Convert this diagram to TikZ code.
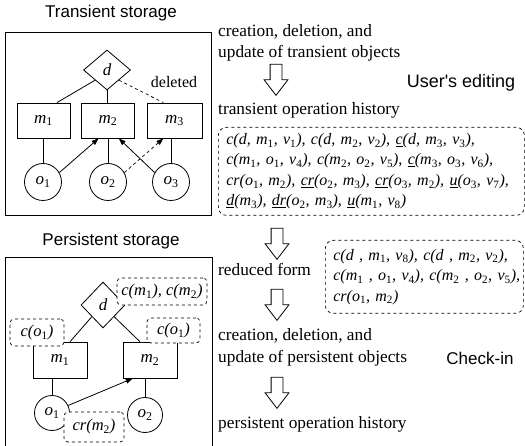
\documentclass[tikz,border=0pt]{standalone}
\usepackage{fontspec}
\setmainfont{Liberation Serif}
\newfontfamily\titlefont{Liberation Sans}
\usetikzlibrary{shapes.geometric,shapes.arrows,calc,arrows.meta}
\newcommand\ix[1]{\textsubscript{\upshape #1}}
\begin{document}
\begin{tikzpicture}[x=1pt,y=-1pt,
  every node/.style={inner sep=0pt},
  frame/.style={line width=0.9pt},
  mbox/.style={draw, line width=0.8pt, minimum width=53pt, minimum height=35pt, font=\itshape\fontsize{17}{17}\selectfont},
  obj/.style={circle, draw, line width=0.8pt, minimum size=37pt, font=\itshape\fontsize{17}{17}\selectfont},
  dia/.style={diamond, draw, line width=0.8pt, aspect=1, font=\itshape\fontsize{17}{17}\selectfont},
  note/.style={draw, dashed, line width=0.7pt, rounded corners=4pt, fill=white, font=\itshape\fontsize{16.5}{16.5}\selectfont},
  hist/.style={draw, dashed, line width=0.7pt, rounded corners=8pt, align=left, anchor=north west, inner xsep=10pt, font=\itshape\fontsize{16}{20.5}\selectfont},
  hollow/.style={single arrow, draw, line width=0.8pt, shape border rotate=270, minimum height=31pt, inner sep=5.5pt, single arrow head extend=6pt, single arrow tip angle=75},
  lbl/.style={anchor=west, font=\fontsize{17.3}{17.3}\selectfont},
  ttl/.style={font=\titlefont\fontsize{17}{17}\selectfont},
  link/.style={line width=0.8pt},
  dlink/.style={line width=0.7pt, dashed},
  arr/.style={line width=0.8pt, -{Triangle[length=7pt,width=5pt]}}
]
\useasboundingbox (0,0) rectangle (525,446);

% ---------- Transient storage ----------
\node[ttl] (t1) at (111,13) {Transient storage};
\draw[frame] (5,32) rectangle (211,215);

\node[dia, minimum width=47pt, minimum height=40pt] (d1) at (107,70) {d};
\node[mbox] (m1) at (43.5,120.5) {m\ix{1}};
\node[mbox] (m2) at (108,120.5) {m\ix{2}};
\node[mbox, minimum width=55pt] (m3) at (174.5,120.5) {m\ix{3}};
\node[obj] (o1) at (43,182) {o\ix{1}};
\node[obj] (o2) at (108,182) {o\ix{2}};
\node[obj] (o3) at (171,182) {o\ix{3}};
\node[font=\fontsize{16}{16}\selectfont] (del) at (174,82) {deleted};

\draw[link] ($(d1.south)!0.5!(d1.west)$) -- ($(m1.north)!0.5!(m1.north east)$);
\draw[link] (d1.south) -- (d1.south |- m2.north);
\draw[dlink] ($(d1.south)!0.5!(d1.east)$) -- ($(m3.north)!0.4!(m3.north west)$);
\draw[link] (o1.north) -- (o1.north |- m1.south);
\draw[link] (o2.north) -- (o2.north |- m2.south);
\draw[link] (o3.north) -- (o3.north |- m3.south);
\draw[arr] (o1.30) -- ($(m2.south)!0.35!(m2.south west)$);
\draw[arr, dashed, line width=0.7pt] (o2.30) -- ($(m3.south)!0.4!(m3.south west)$);
\draw[arr] (o3.150) -- ($(m2.south)!0.4!(m2.south east)$);

% ---------- Persistent storage ----------
\node[ttl] (t2) at (111,241) {Persistent storage};
\draw[frame] (5,447) -- (5,257) -- (212,257) -- (212,447);

\node[dia, minimum width=44pt, minimum height=46pt] (pd) at (103,305) {d};
\node[mbox, minimum width=54pt, minimum height=36pt] (pm1) at (60,360) {m\ix{1}};
\node[mbox, minimum width=54pt, minimum height=36pt] (pm2) at (150,360) {m\ix{2}};
\node[obj, minimum size=35pt] (po1) at (52,413) {o\ix{1}};
\node[obj, minimum size=35pt] (po2) at (145,415) {o\ix{2}};

\draw[link] ($(pd.south)!0.5!(pd.west)$) -- ($(pm1.north)!0.37!(pm1.north east)$);
\draw[link] ($(pd.south)!0.5!(pd.east)$) -- ($(pm2.north)!0.37!(pm2.north west)$);
\draw[link] (po1.north) -- (po1.north |- pm1.south);
\draw[link] (po2.north) -- (po2.north |- pm2.south);
\draw[arr] (po1.25) -- ($(pm2.south)!0.63!(pm2.south west)$);

\node[note, minimum width=90pt, minimum height=27pt] (n1) at (162,291.5) {c(m\ix{1}), c(m\ix{2})};
\node[note, minimum width=54pt, minimum height=27pt] (n2) at (37,332.5) {c(o\ix{1})};
\node[note, minimum width=53pt, minimum height=25pt] (n3) at (173.5,330.5) {c(o\ix{1})};
\node[note, minimum width=60pt, minimum height=30pt] (n4) at (94,427) {cr(m\ix{2})};

% ---------- Right column ----------
\node[lbl] (l1) at (218,32) {creation, deletion, and};
\node[lbl] (l2) at (218,53) {update of transient objects};
\node[hollow] (a1) at (276,76) {};
\node[ttl, font=\titlefont\fontsize{18}{18}\selectfont] (ue) at (461,83) {User's editing};
\node[lbl] (l3) at (218,110) {transient operation history};

\node[hist, text width=290pt, inner xsep=8pt, minimum height=88pt] (h1) at (218,127) {%
\mbox{c(d, m\ix{1}, v\ix{1}), c(d, m\ix{2}, v\ix{2}), \underline{c}(d, m\ix{3}, v\ix{3}),}\\
\mbox{c(m\ix{1}, o\ix{1}, v\ix{4}), c(m\ix{2}, o\ix{2}, v\ix{5}), \underline{c}(m\ix{3}, o\ix{3}, v\ix{6}),}\\
\mbox{cr(o\ix{1}, m\ix{2}), \underline{cr}(o\ix{2}, m\ix{3}), \underline{cr}(o\ix{3}, m\ix{2}), \underline{u}(o\ix{3}, v\ix{7}),}\\
\mbox{\underline{d}(m\ix{3}), \underline{dr}(o\ix{2}, m\ix{3}), \underline{u}(m\ix{1}, v\ix{8})}};

\node[hollow] (a2) at (277,240) {};
\node[lbl] (l4) at (218,269) {reduced form};
\node[hist, text width=182pt, inner xsep=8pt, minimum height=73pt] (h2) at (325,240) {%
\mbox{c(d , m\ix{1}, v\ix{8}), c(d , m\ix{2}, v\ix{2}),}\\
\mbox{c(m\ix{1} , o\ix{1}, v\ix{4}), c(m\ix{2} , o\ix{2}, v\ix{5}),}\\
\mbox{cr(o\ix{1}, m\ix{2})}};

\node[hollow] (a3) at (277,301) {};
\node[lbl] (l5) at (218,336) {creation, deletion, and};
\node[lbl] (l6) at (218,358) {update of persistent objects};
\node[ttl] (ci) at (480,358) {Check-in};
\node[hollow] (a4) at (277,389) {};
\node[lbl] (l7) at (218,424) {persistent operation history};
\end{tikzpicture}
\end{document}
